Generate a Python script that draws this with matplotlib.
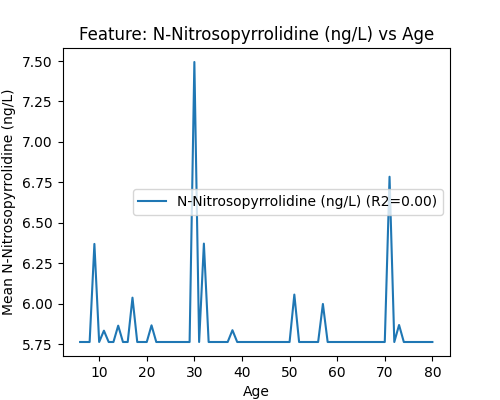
import matplotlib
matplotlib.use("Agg")
import matplotlib.pyplot as plt
import numpy as np

baseline = 5.764
ages = list(range(6, 81))
peak_ages = [9, 11, 14, 17, 21, 30, 32, 38, 51, 57, 71, 73]
peak_vals = [6.37, 5.834, 5.865, 6.038, 5.867, 7.494, 6.372, 5.837, 6.057, 5.999, 6.785, 5.869]

peaks = dict(zip(peak_ages, peak_vals))
means = [peaks.get(a, baseline) for a in ages]

fig, ax = plt.subplots(figsize=(5, 4), dpi=100)
ax.plot(ages, means, label="N-Nitrosopyrrolidine (ng/L) (R2=0.00)")
ax.set_title("Feature: N-Nitrosopyrrolidine (ng/L) vs Age")
ax.set_xlabel("Age")
ax.set_ylabel("Mean N-Nitrosopyrrolidine (ng/L)")
ax.yaxis.set_major_formatter(matplotlib.ticker.FormatStrFormatter("%.2f"))
ax.legend(loc="center right")
fig.savefig("out.png", dpi=100)
